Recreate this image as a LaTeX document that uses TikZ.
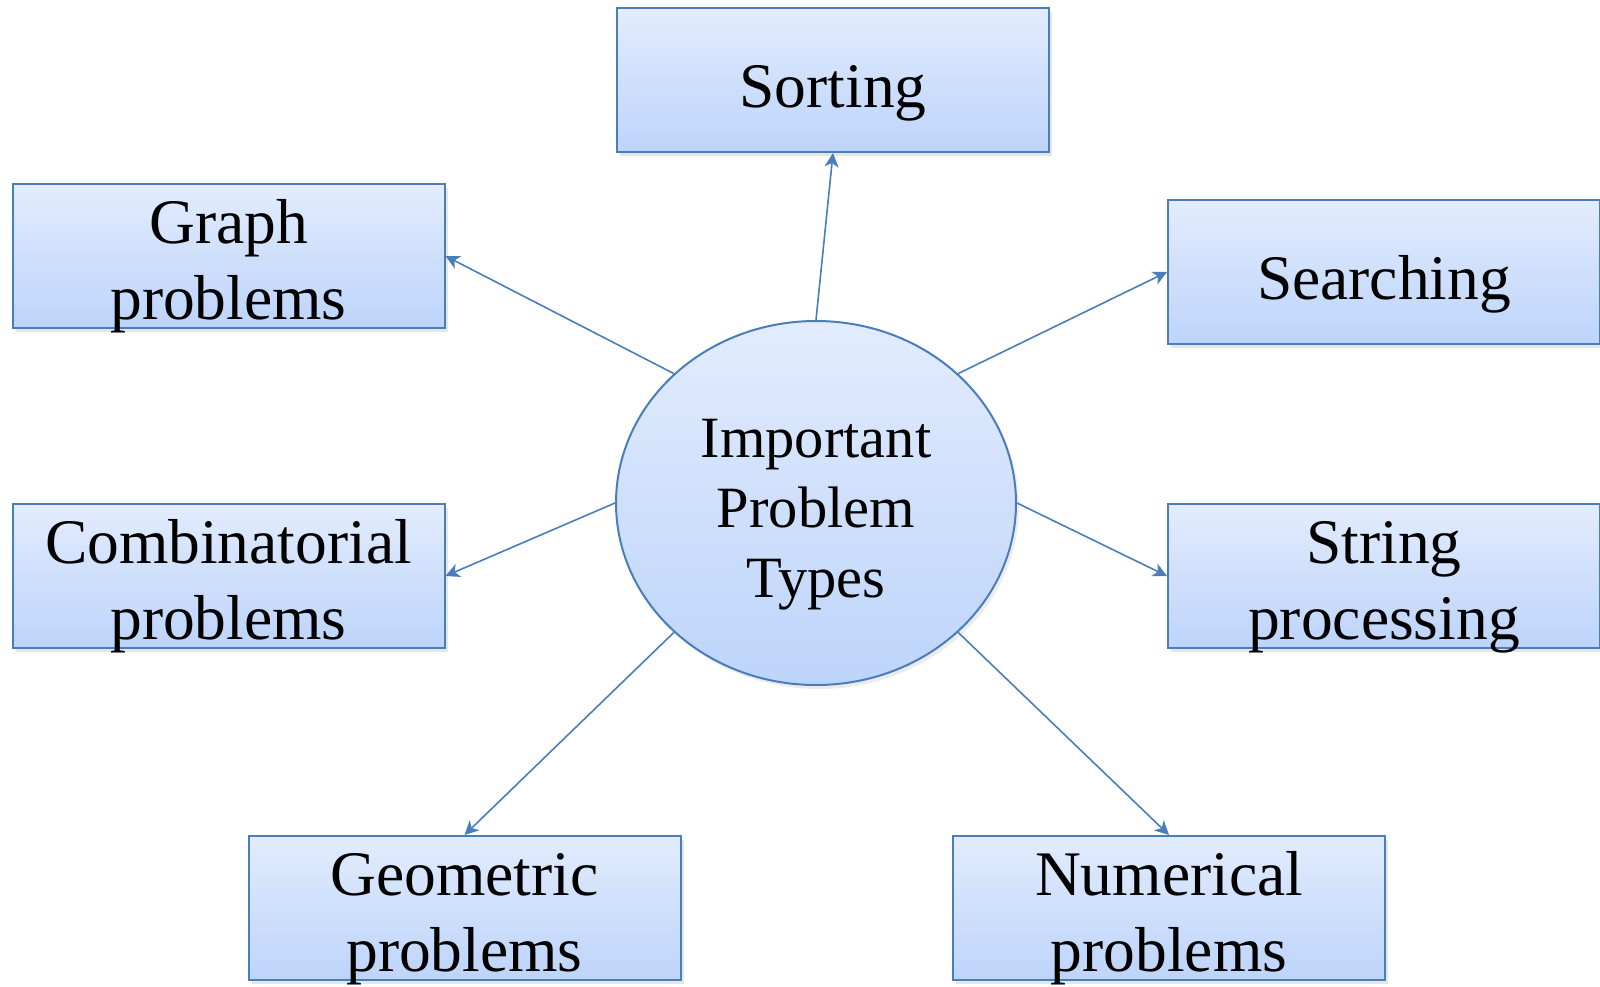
\documentclass[tikz,border=0pt]{standalone}
\usepackage{fontspec}
\setmainfont{Liberation Serif}
\usetikzlibrary{arrows.meta}
\usetikzlibrary{shadows}
\usetikzlibrary{shapes.geometric}
\definecolor{custom-edge}{RGB}{74, 126, 187}
\definecolor{custom-top}{RGB}{226, 236, 253}
\definecolor{custom-bottom}{RGB}{189, 212, 250}

\begin{document}
\begin{tikzpicture}[x=1pt, y=-1pt,
    topic/.style={rectangle, draw=custom-edge, line width=2pt,
        top color=custom-top, bottom color=custom-bottom,
        minimum width=432pt, minimum height=144pt, inner sep=0pt,
        font=\fontsize{63.5}{76}\selectfont, align=center,
        drop shadow={shadow xshift=3pt, shadow yshift=-4pt, opacity=0.2}},
    oneline/.style={text height=60pt, text depth=6pt},
    twoline/.style={text height=130pt, text depth=4pt},
    link/.style={draw=custom-edge, line width=1.6pt,
        -{Stealth[length=14pt, width=14pt, inset=4pt]}}]
\useasboundingbox (0,0) rectangle (1600,986);

\node[ellipse, draw=custom-edge, line width=2pt,
    top color=custom-top, bottom color=custom-bottom,
    minimum width=400pt, minimum height=364pt, inner sep=0pt,
    text height=196pt, text depth=8pt,
    font=\fontsize{58.5}{70}\selectfont, align=center,
    drop shadow={shadow xshift=3pt, shadow yshift=-4pt, opacity=0.15}]
    (types) at (816,503) {Important\\Problem\\Types};

\node[topic, oneline] (sorting) at (833,80) {Sorting};
\node[topic, oneline] (searching) at (1384,272) {Searching};
\node[topic, twoline] (graph) at (228.5,256) {Graph\\problems};
\node[topic, twoline] (comb) at (228.5,576) {Combinatorial\\problems};
\node[topic, twoline] (string) at (1384,576) {String\\processing};
\node[topic, twoline] (geom) at (464.5,908) {Geometric\\problems};
\node[topic, twoline] (numer) at (1169,908) {Numerical\\problems};

% arrows out of the centre
\draw[link] (types.north) -- (sorting.south);
\draw[link] (types.north west) -- (graph.east);
\draw[link] (types.north east) -- (searching.west);
\draw[link] (types.west) -- (comb.east);
\draw[link] (types.east) -- (string.west);
\draw[link] (types.south west) -- (geom.north);
\draw[link] (types.south east) -- (numer.north);

\end{tikzpicture}
\end{document}
